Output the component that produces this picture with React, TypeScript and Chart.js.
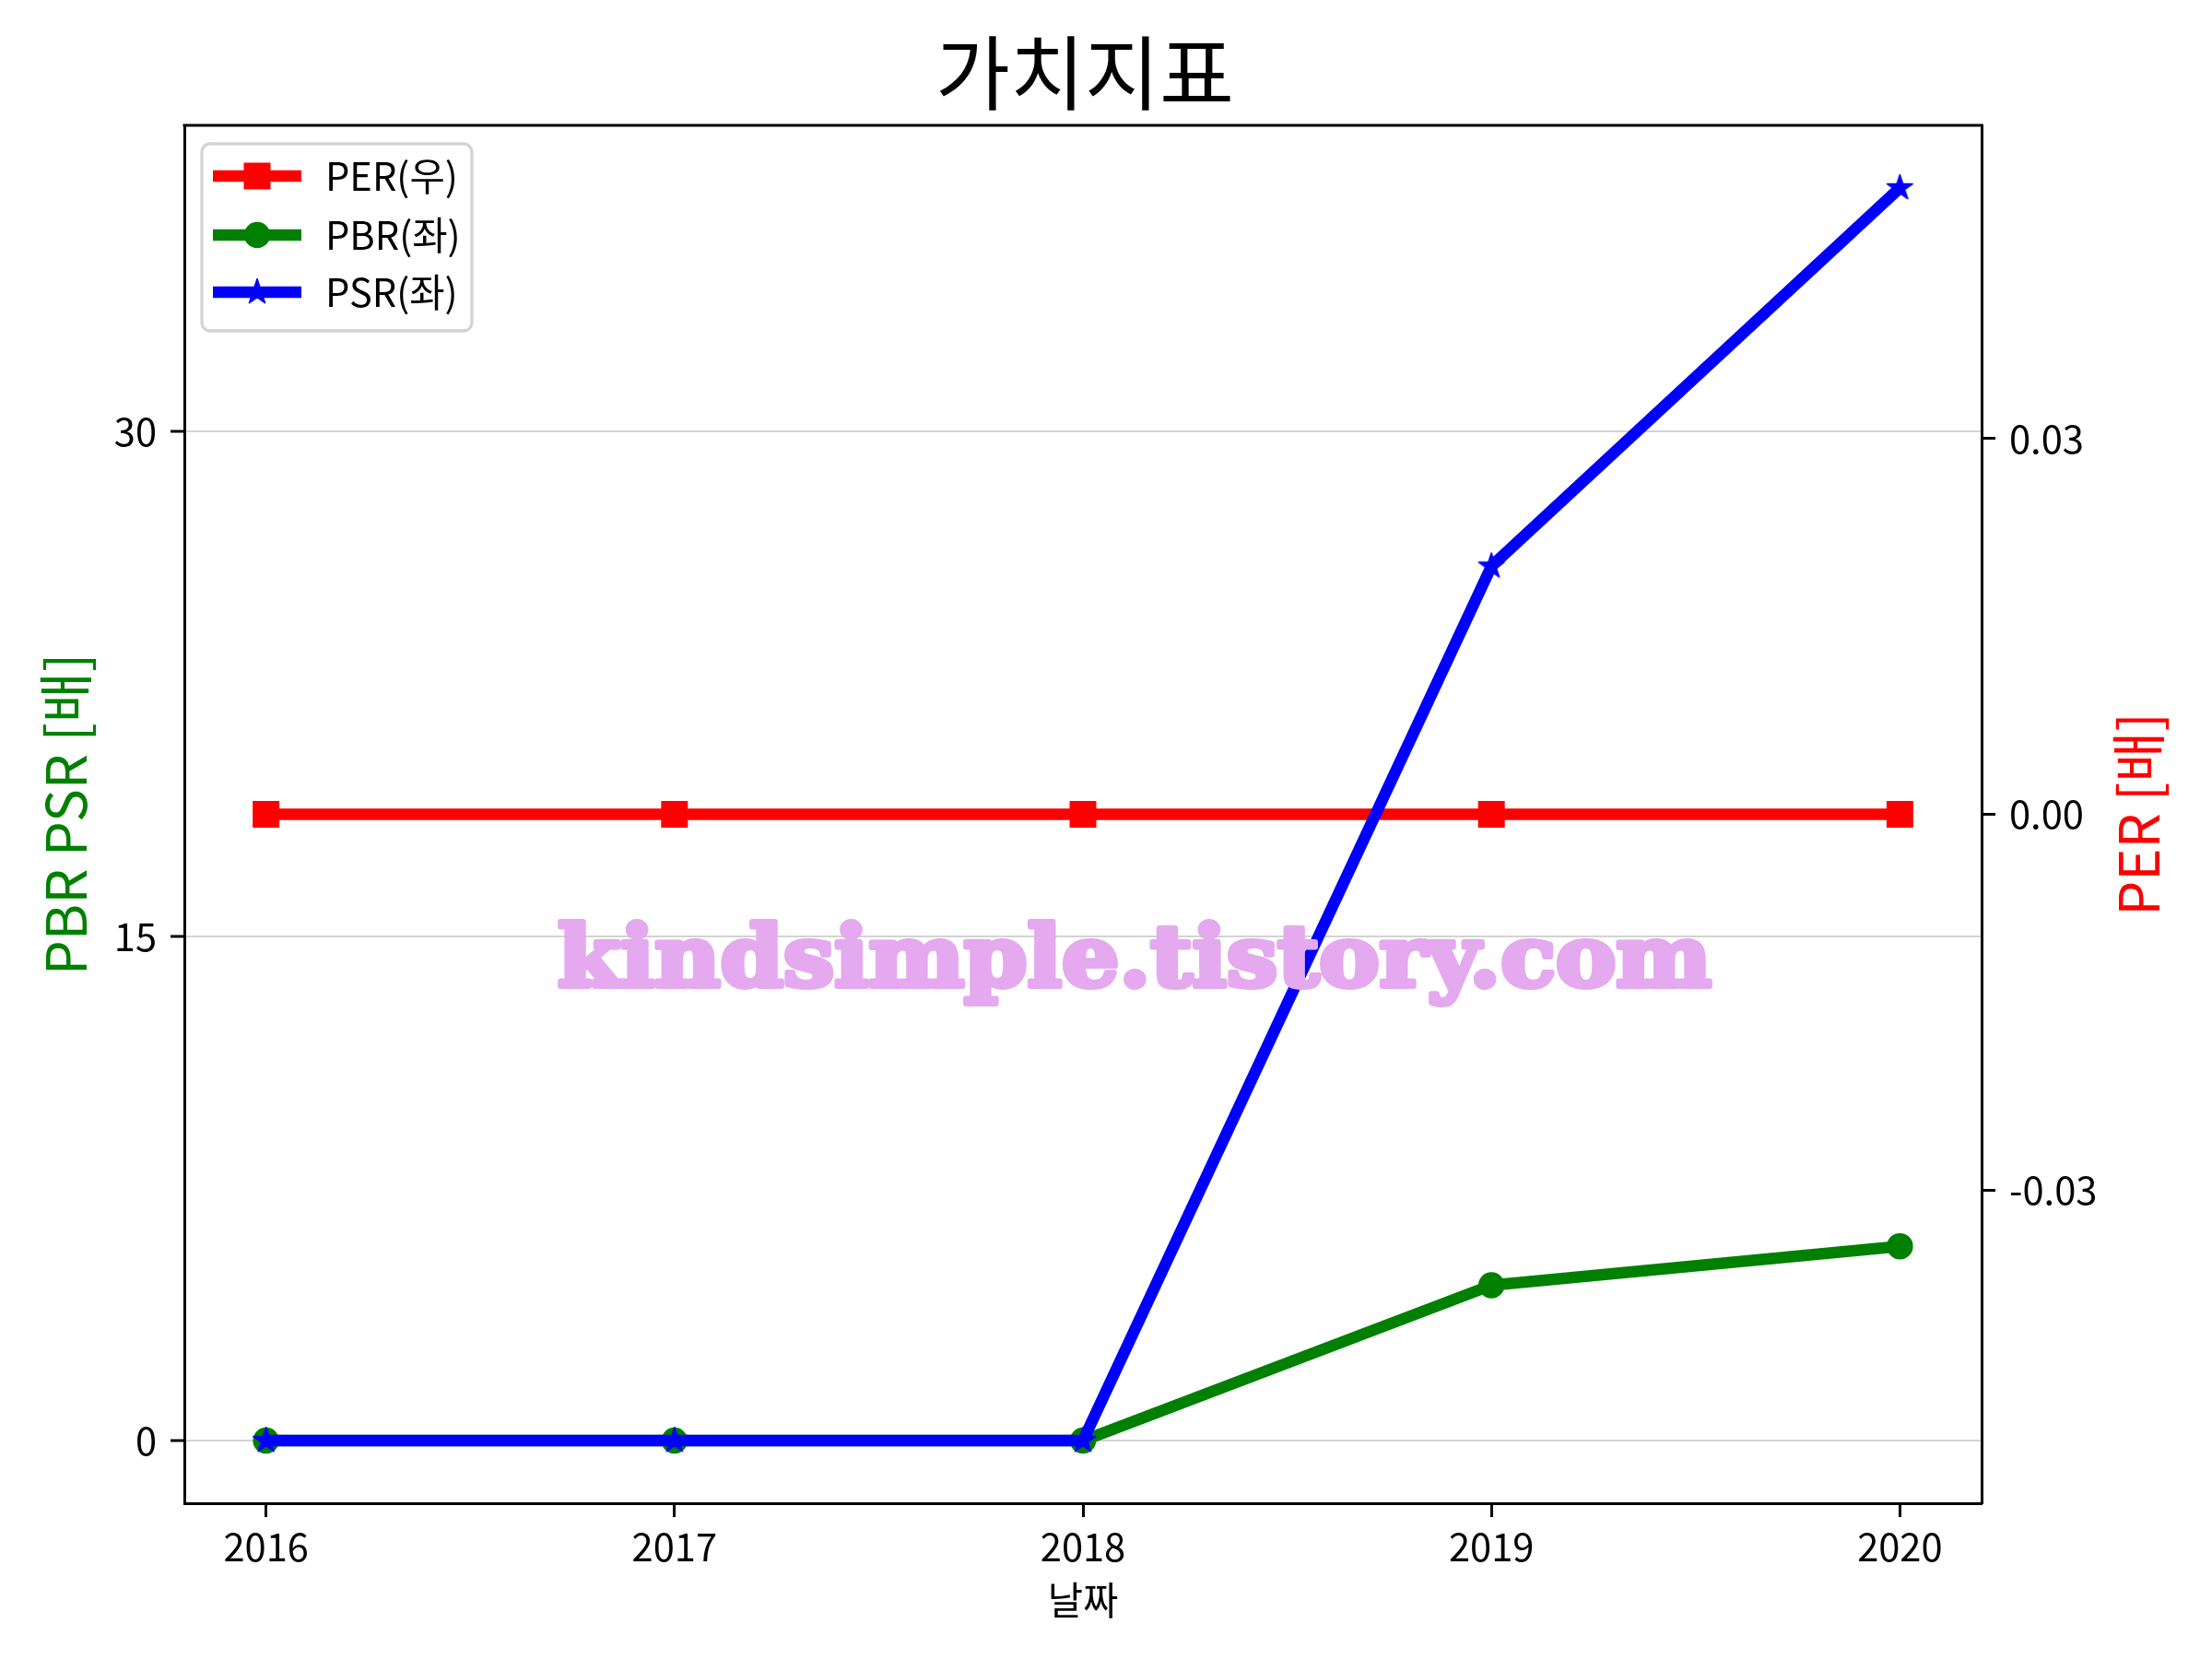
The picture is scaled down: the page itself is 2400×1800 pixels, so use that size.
import React, { useEffect, useRef } from 'react';
import { Chart, registerables } from 'chart.js';

Chart.register(...registerables);

// ---- data ----
const years = [2016, 2017, 2018, 2019, 2020];
const perValues = [0, 0, 0, 0, 0];
const pbrValues = [0, 0, 0, 4.62, 5.78];
const psrValues = [0, 0, 0, 26.0, 37.25];
const seriesLabels = ['PER(우)', 'PBR(좌)', 'PSR(좌)'];
const leftTicks = [0, 15, 30];
const rightTicks = [-0.03, 0, 0.03];
const xTicks = years;
const rightLimits = [-0.055, 0.055];

const FONT = "'Noto Sans CJK KR', 'Noto Sans', sans-serif";

function makeStar(size: number, R: number, color: string) {
  const c = document.createElement('canvas');
  c.width = size;
  c.height = size;
  const ctx = c.getContext('2d')!;
  const cx = size / 2;
  const cy = size / 2;
  const r = R * 0.381966;
  ctx.beginPath();
  for (let i = 0; i < 10; i++) {
    const a = -Math.PI / 2 + (i * Math.PI) / 5;
    const rad = i % 2 === 0 ? R : r;
    ctx.lineTo(cx + rad * Math.cos(a), cy + rad * Math.sin(a));
  }
  ctx.closePath();
  ctx.fillStyle = color;
  ctx.fill();
  ctx.lineWidth = 1.5;
  ctx.lineJoin = 'round';
  ctx.strokeStyle = color;
  ctx.stroke();
  return c;
}

const framePlugin = {
  id: 'topFrame',
  afterDraw(chart: any) {
    const { ctx, chartArea } = chart;
    ctx.save();
    ctx.strokeStyle = '#000';
    ctx.lineWidth = 3;
    ctx.beginPath();
    ctx.moveTo(chartArea.left - 1.5, chartArea.top);
    ctx.lineTo(chartArea.right + 1.5, chartArea.top);
    ctx.stroke();
    ctx.restore();
  },
};

const watermarkPlugin = {
  id: 'watermark',
  afterDatasetsDraw(chart: any) {
    const { ctx, chartArea } = chart;
    ctx.save();
    ctx.font = 'bold 92px "DejaVu Serif"';
    const text = 'kindsimple.tistory.com';
    const w = ctx.measureText(text).width;
    const sx = 1252 / w;
    const cx = (chartArea.left + chartArea.right) / 2 + 56;
    const by = chartArea.top + 934;
    ctx.translate(cx, by);
    ctx.scale(sx, 1);
    ctx.textAlign = 'center';
    ctx.textBaseline = 'alphabetic';
    ctx.fillStyle = '#e4a9ee';
    ctx.strokeStyle = '#e4a9ee';
    ctx.lineWidth = 6;
    ctx.lineJoin = 'round';
    ctx.strokeText(text, 0, 0);
    ctx.fillText(text, 0, 0);
    ctx.restore();
  },
};

const rightTitlePlugin = {
  id: 'rightTitle',
  afterDraw(chart: any) {
    const { ctx, chartArea } = chart;
    ctx.save();
    ctx.translate(2320, (chartArea.top + chartArea.bottom) / 2);
    ctx.rotate(-Math.PI / 2);
    ctx.font = `60px ${FONT}`;
    ctx.fillStyle = '#ff0000';
    ctx.textAlign = 'center';
    ctx.textBaseline = 'middle';
    ctx.fillText('PER [배]', 0, 0);
    ctx.restore();
  },
};

const legendPlugin = {
  id: 'customLegend',
  afterDraw(chart: any) {
    const { ctx, chartArea } = chart;
    const x0 = chartArea.left + 19;
    const y0 = chartArea.top + 20;
    const w = 293;
    const h = 203;
    const rad = 9;
    ctx.save();
    ctx.beginPath();
    ctx.moveTo(x0 + rad, y0);
    ctx.lineTo(x0 + w - rad, y0);
    ctx.arcTo(x0 + w, y0, x0 + w, y0 + rad, rad);
    ctx.lineTo(x0 + w, y0 + h - rad);
    ctx.arcTo(x0 + w, y0 + h, x0 + w - rad, y0 + h, rad);
    ctx.lineTo(x0 + rad, y0 + h);
    ctx.arcTo(x0, y0 + h, x0, y0 + h - rad, rad);
    ctx.lineTo(x0, y0 + rad);
    ctx.arcTo(x0, y0, x0 + rad, y0, rad);
    ctx.closePath();
    ctx.fillStyle = 'rgba(255,255,255,0.8)';
    ctx.fill();
    ctx.strokeStyle = '#d4d4d4';
    ctx.lineWidth = 3.3;
    ctx.stroke();

    const rows = [191, 255, 317];
    chart.data.datasets.forEach((ds: any, i: number) => {
      const y = rows[i];
      const lx1 = 231;
      const lx2 = 327;
      const mx = 279;
      ctx.strokeStyle = ds.borderColor;
      ctx.lineWidth = ds.borderWidth;
      ctx.lineCap = 'butt';
      ctx.beginPath();
      ctx.moveTo(lx1, y);
      ctx.lineTo(lx2, y);
      ctx.stroke();
      ctx.fillStyle = ds.borderColor;
      if (ds.pointStyle === 'rect') {
        const s = 29;
        ctx.fillRect(mx - s / 2, y - s / 2, s, s);
      } else if (ds.pointStyle === 'circle') {
        ctx.beginPath();
        ctx.arc(mx, y, 14.2, 0, Math.PI * 2);
        ctx.fill();
      } else if (ds.pointStyle && ds.pointStyle.width) {
        const img = ds.pointStyle;
        ctx.drawImage(img, mx - img.width / 2, y - img.height / 2);
      }
      ctx.font = `41.67px ${FONT}`;
      ctx.fillStyle = '#000';
      ctx.textAlign = 'left';
      ctx.textBaseline = 'middle';
      ctx.fillText(ds.label, 353, y);
    });
    ctx.restore();
  },
};

export default function App() {
  const canvasRef = useRef<HTMLCanvasElement | null>(null);

  useEffect(() => {
    document.body.style.margin = '0';
    const canvas = canvasRef.current!;
    const star = makeStar(34, 14.5, '#0000ff');

    const maxLeft = Math.max(...pbrValues, ...psrValues);
    const leftMin = -0.05 * maxLeft;
    const leftMax = 1.05 * maxLeft;
    const xSpan = years[years.length - 1] - years[0];
    const xMin = years[0] - 0.05 * xSpan;
    const xMax = years[years.length - 1] + 0.05 * xSpan;

    const toPts = (vals: number[]) => years.map((yr, i) => ({ x: yr, y: vals[i] }));

    const tickFont = { family: FONT, size: 41.67 };

    const chart = new Chart(canvas, {
      type: 'line',
      data: {
        datasets: [
          {
            label: seriesLabels[0],
            data: toPts(perValues),
            yAxisID: 'y1',
            borderColor: '#ff0000',
            backgroundColor: '#ff0000',
            borderWidth: 12.5,
            pointStyle: 'rect',
            pointRadius: 20.5,
            pointBorderWidth: 0,
            pointBackgroundColor: '#ff0000',
            borderJoinStyle: 'round',
            order: 3,
          },
          {
            label: seriesLabels[1],
            data: toPts(pbrValues),
            yAxisID: 'y',
            borderColor: '#008000',
            backgroundColor: '#008000',
            borderWidth: 12.5,
            pointStyle: 'circle',
            pointRadius: 13.5,
            pointBorderWidth: 1.5,
            pointBorderColor: '#008000',
            pointBackgroundColor: '#008000',
            borderJoinStyle: 'round',
            order: 2,
          },
          {
            label: seriesLabels[2],
            data: toPts(psrValues),
            yAxisID: 'y',
            borderColor: '#0000ff',
            backgroundColor: '#0000ff',
            borderWidth: 12.5,
            pointStyle: star as any,
            pointRadius: 14,
            borderJoinStyle: 'round',
            order: 1,
          },
        ] as any,
      },
      options: {
        responsive: false,
        animation: false,
        devicePixelRatio: 1,
        events: [],
        layout: { padding: { left: 0, right: 46, top: 0, bottom: 0 } },
        plugins: {
          legend: { display: false },
          tooltip: { enabled: false },
          title: {
            display: true,
            text: '가치지표',
            color: '#000',
            font: { family: FONT, size: 88, weight: 'normal' as any },
            padding: { top: 26, bottom: 4.4 },
          },
        },
        scales: {
          x: {
            type: 'linear',
            position: 'bottom',
            min: xMin,
            max: xMax,
            afterBuildTicks: (scale: any) => {
              scale.ticks = xTicks.map((v) => ({ value: v }));
            },
            afterFit: (scale: any) => {
              scale.height = 169;
            },
            ticks: {
              color: '#000',
              font: tickFont,
              padding: 7,
              autoSkip: false,
              maxRotation: 0,
              callback: (v: any) => String(v),
            },
            grid: {
              drawOnChartArea: false,
              drawTicks: true,
              tickLength: 15,
              tickWidth: 3,
              tickColor: '#000',
              color: '#000',
            },
            border: { display: true, color: '#000', width: 3, z: 1 },
            title: {
              display: true,
              text: '날짜',
              color: '#000',
              font: { family: FONT, size: 41.67 },
              padding: { top: 0, bottom: 39 },
            },
          },
          y: {
            type: 'linear',
            position: 'left',
            min: leftMin,
            max: leftMax,
            afterBuildTicks: (scale: any) => {
              scale.ticks = leftTicks.map((v) => ({ value: v }));
            },
            afterFit: (scale: any) => {
              scale.width = 200;
            },
            ticks: {
              color: '#000',
              font: tickFont,
              padding: 15,
              callback: (v: any) => String(v),
            },
            grid: {
              color: '#d3d3d3',
              lineWidth: 2,
              drawTicks: true,
              tickLength: 15,
              tickWidth: 3,
              tickColor: '#000',
            },
            border: { display: true, color: '#000', width: 3, z: 1 },
            title: {
              display: true,
              text: 'PBR PSR [배]',
              color: '#008000',
              font: { family: FONT, size: 60 },
              padding: { top: 35, bottom: 0 },
            },
          },
          y1: {
            type: 'linear',
            position: 'right',
            min: rightLimits[0],
            max: rightLimits[1],
            afterBuildTicks: (scale: any) => {
              scale.ticks = rightTicks.map((v) => ({ value: v }));
            },
            afterFit: (scale: any) => {
              scale.width = 204;
            },
            ticks: {
              color: '#000',
              font: tickFont,
              padding: 15,
              callback: (v: any) => Number(v).toFixed(2),
            },
            grid: {
              drawOnChartArea: false,
              drawTicks: true,
              tickLength: 15,
              tickWidth: 3,
              tickColor: '#000',
              color: '#000',
            },
            border: { display: true, color: '#000', width: 3, z: 1 },
          },
        },
      } as any,
      plugins: [watermarkPlugin, framePlugin, legendPlugin, rightTitlePlugin],
    });

    return () => {
      chart.destroy();
    };
  }, []);

  return (
    <div style={{ position: 'absolute', left: 0, top: 0, width: 2400, height: 1800, background: '#fff' }}>
      <canvas ref={canvasRef} width={2400} height={1800} style={{ width: 2400, height: 1800, display: 'block' }} />
    </div>
  );
}
